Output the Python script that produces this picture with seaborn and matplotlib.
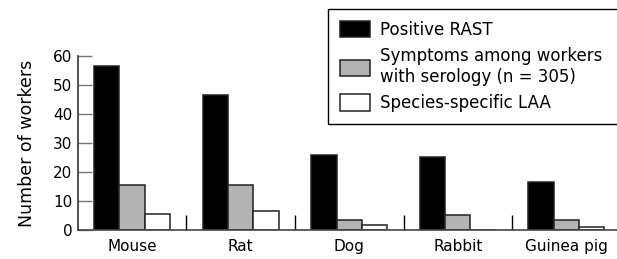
import pandas as pd
import seaborn as sns
import matplotlib.pyplot as plt

# datos
animales = ["Mouse", "Rat", "Dog", "Rabbit", "Guinea pig"]
series = ["Positive RAST",
          "Symptoms among workers\nwith serology (n = 305)",
          "Species-specific LAA"]
rast = [56.5, 46.5, 26, 25, 16.5]
sintomas = [15.5, 15.5, 3.5, 5, 3.5]
laa = [5.5, 6.5, 1.5, 0, 1]

df = pd.DataFrame({
    "animal": animales * 3,
    "serie": [series[0]] * 5 + [series[1]] * 5 + [series[2]] * 5,
    "valor": rast + sintomas + laa,
})

sns.set_style("white")
plt.rcParams["font.family"] = ["DejaVu Sans"]
plt.rcParams["text.color"] = "black"
plt.rcParams["axes.labelcolor"] = "black"
plt.rcParams["xtick.color"] = "black"
plt.rcParams["ytick.color"] = "black"

fig = plt.figure(figsize=(6.17, 2.59), dpi=100)
ax = fig.add_axes([0.126, 0.113, 0.88, 0.67])

sns.barplot(data=df, x="animal", y="valor", hue="serie", order=animales,
            hue_order=series, palette=["black", "#b3b3b3", "white"],
            width=0.7, gap=0, edgecolor="#222222", linewidth=1.1, ax=ax)

ax.set_xlim(-0.5, 4.5)
ax.set_ylim(0, 60)
ax.set_yticks(range(0, 61, 10))
ax.set_xlabel("")
ax.set_ylabel("Number of workers", fontsize=12.5, labelpad=12)
sns.despine(ax=ax)
ax.spines["left"].set_color("#333333")
ax.spines["bottom"].set_color("#444444")
ax.spines["left"].set_linewidth(1.2)
ax.spines["bottom"].set_linewidth(1.2)

ax.tick_params(axis="y", left=True, direction="in", length=10, width=1,
               color="#777777", labelcolor="black", labelsize=11, pad=4)
ax.tick_params(axis="x", which="major", length=0, labelsize=11, pad=7,
               labelcolor="black")
ax.set_xticks([0.5, 1.5, 2.5, 3.5], minor=True)
ax.tick_params(axis="x", which="minor", bottom=True, direction="in",
               length=10.5, width=1, color="black")

ax.legend_.remove()
h, l = ax.get_legend_handles_labels()
# la caja de la leyenda se sale por la derecha, como en el original
fig.legend(h, l, loc="upper left", bbox_to_anchor=(0.5316, 0.5, 0.48, 0.465),
           mode="expand", borderaxespad=0, fontsize=12, frameon=True,
           fancybox=False, framealpha=1, edgecolor="black",
           handlelength=1.8, handleheight=1.15, handletextpad=0.6,
           labelspacing=0.5, borderpad=0.7)

plt.savefig("out.png", dpi=100)
